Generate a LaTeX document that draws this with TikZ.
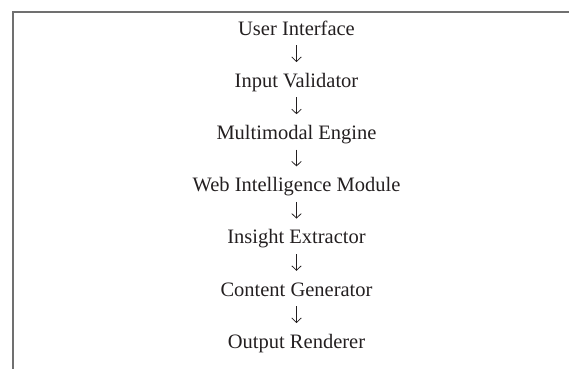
\documentclass[tikz,border=0pt]{standalone}
\usepackage{fontspec}
\setmainfont{Liberation Serif}
\usetikzlibrary{arrows.meta}
\definecolor{rulegray}{HTML}{707070}
\definecolor{inkgray}{HTML}{231F20}
\tikzset{
  stage/.style={anchor=base, inner sep=0pt, text height=14pt, text depth=0pt,
    text=inkgray, font=\fontsize{20.5}{24}\selectfont},
  flow/.style={draw=inkgray, line width=0.75pt, -{Straight Barb[length=4.5pt,width=9.5pt]},
    shorten <=10pt, shorten >=11pt},
  frame/.style={draw=rulegray, line width=2pt}
}
\begin{document}
\begin{tikzpicture}[x=1pt, y=-1pt]
  \useasboundingbox (0,0) rectangle (569,369);
  % open frame: top rule and left rule
  \draw[frame] (569,12.5) -- (12.5,12.5) -- (12.5,369);
  % pipeline stages, one per row
  \def\cx{296.5}
  \node[stage] (ui)  at (\cx,35)    {User Interface};
  \node[stage] (iv)  at (\cx,87.2)  {Input Validator};
  \node[stage] (me)  at (\cx,139.4) {Multimodal Engine};
  \node[stage] (wim) at (\cx,191.6) {Web Intelligence Module};
  \node[stage] (ie)  at (\cx,243.8) {Insight Extractor};
  \node[stage] (cg)  at (\cx,296.0) {Content Generator};
  \node[stage] (out) at (\cx,348.2) {Output Renderer};
  % arrows between consecutive stages
  \draw[flow] (ui.south)  -- (iv.north);
  \draw[flow] (iv.south)  -- (me.north);
  \draw[flow] (me.south)  -- (wim.north);
  \draw[flow] (wim.south) -- (ie.north);
  \draw[flow] (ie.south)  -- (cg.north);
  \draw[flow] (cg.south)  -- (out.north);
\end{tikzpicture}
\end{document}
